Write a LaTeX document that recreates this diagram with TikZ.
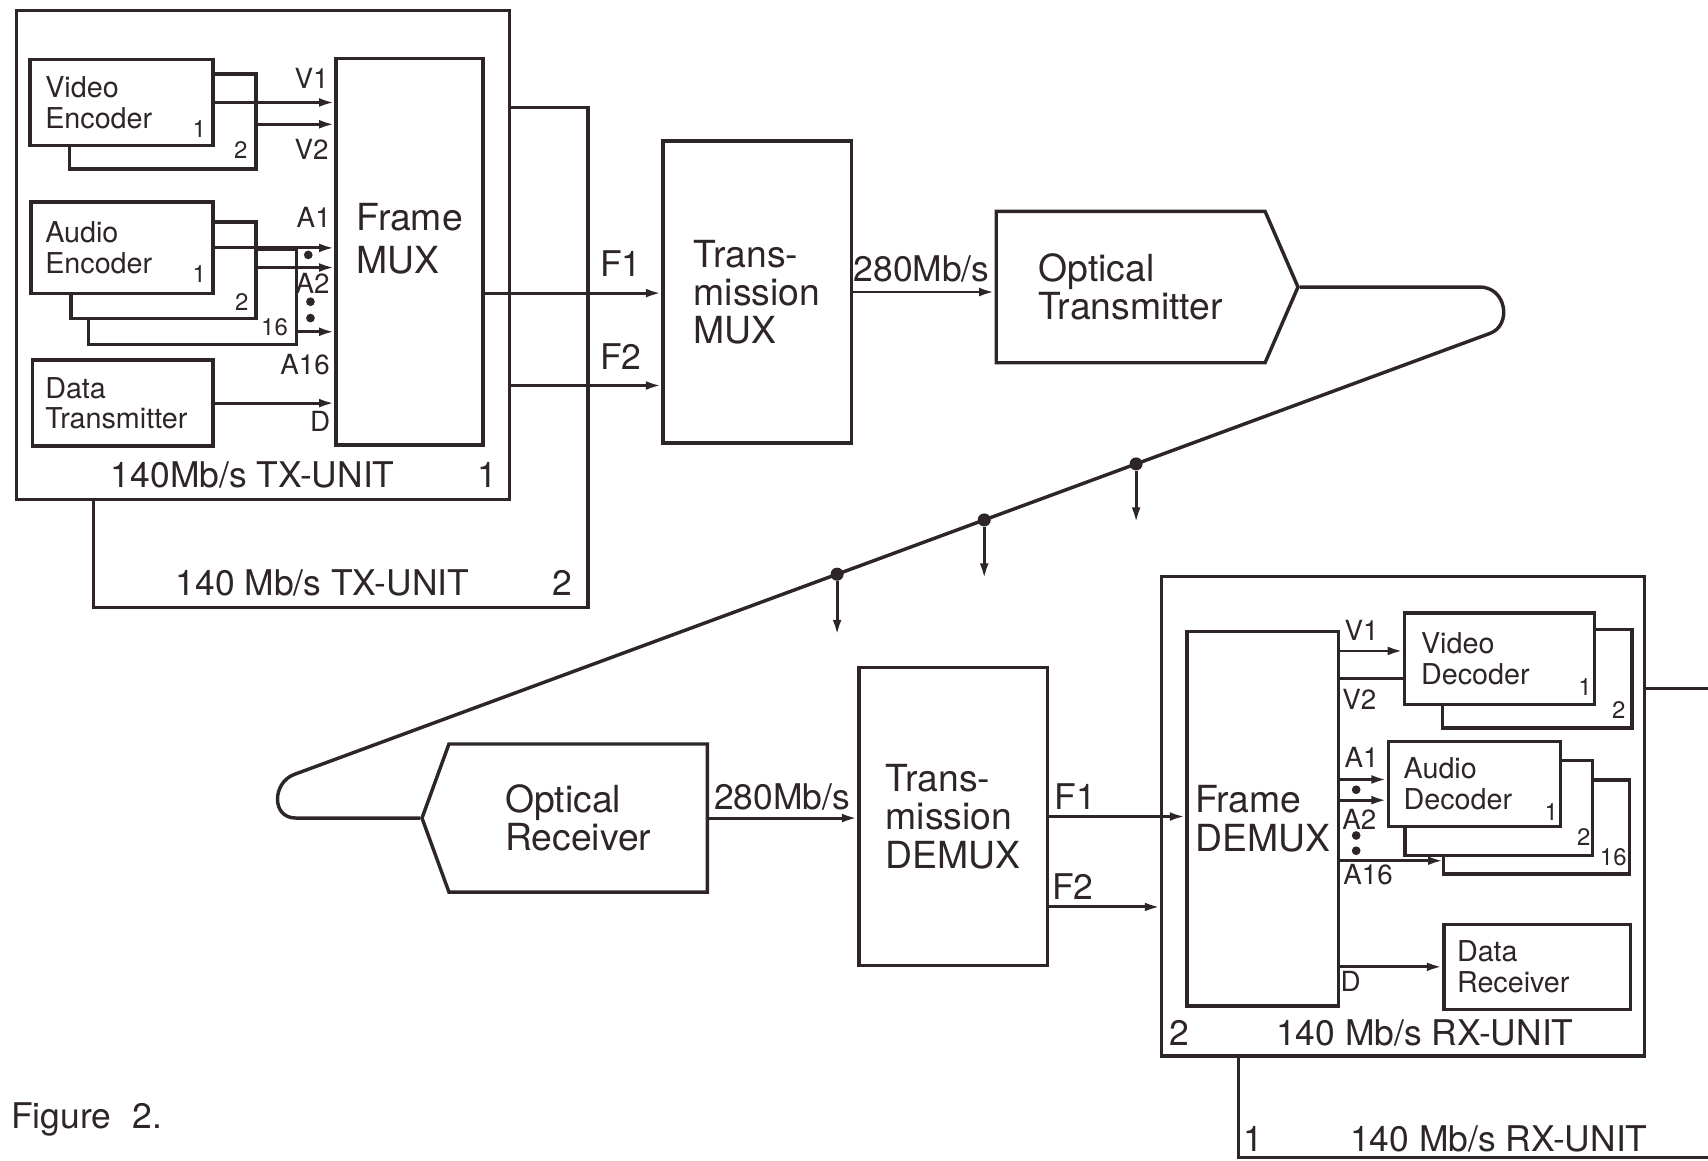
\documentclass[tikz,border=0pt]{standalone}
\usepackage{fontspec}
\setmainfont{TeX Gyre Heros}
\usetikzlibrary{shapes.symbols,arrows.meta,positioning,calc}

\definecolor{ink}{RGB}{45,37,41}

\begin{document}
\begin{tikzpicture}[
    x=0.2mm, y=-0.2mm, color=ink,
    unitframe/.style={draw, line width=1.6pt, anchor=north west, inner sep=0pt},
    unitline/.style={line width=1.6pt},
    block/.style={draw, line width=1.8pt, anchor=north west, align=left, font=\fontsize{15}{16}\selectfont},
    bigblock/.style={draw, line width=1.8pt, anchor=north west, align=left, font=\fontsize{19.5}{20}\selectfont},
    optic/.style={signal, draw, line width=1.8pt, align=left, font=\fontsize{19.5}{20}\selectfont},
    stack/.style={line width=1.8pt},
    sig/.style={line width=1.5pt, -{Latex[length=8pt,width=4.6pt]}},
    wire/.style={line width=1.5pt},
    fibre/.style={line width=1.8pt},
    tag/.style={font=\fontsize{14.5}{15}\selectfont, inner sep=0pt},
    num/.style={font=\fontsize{12.5}{13}\selectfont, inner sep=0pt},
    big/.style={font=\fontsize{18.5}{19}\selectfont, inner sep=0pt},
    bullet/.style={circle, fill, inner sep=0pt, minimum size=1.6mm},
    tapdot/.style={circle, fill, inner sep=0pt, minimum size=2.4mm},
]
\useasboundingbox (0,0) rectangle (1568,1065);

% ---------- transmitter side ----------
\node[unitframe, minimum width=90.4mm, minimum height=89.8mm] (txu1) at (14,8) {};
\draw[unitline] ($(txu1.north east)+(0,91)$) -| ($(txu1.south east)+(71,98)$) -| ($(txu1.south west)+(72,0)$);

\node[block, inner xsep=2.8mm, text width=28mm, minimum height=15.8mm] (venc) at (26,53) {Video\\Encoder};
\node[block, inner xsep=2.6mm, text width=28.2mm, minimum height=16.8mm] (aenc) at (27,184) {Audio\\Encoder};
\node[block, inner xsep=2.4mm, text width=28.4mm, minimum height=15.8mm] (dtx) at (28,329) {Data\\Transmitter};
\node[bigblock, font=\fontsize{19.5}{22.5}\selectfont, text depth=4.9mm, minimum width=27mm, minimum height=71mm] (fmux) at (307,52) {Frame\\MUX};

% stacked encoders behind
\draw[stack] ($(venc.north east)+(0,15)$) -| ($(venc.south east)+(38,20)$) -| ($(venc.south west)+(38,0)$);
\draw[stack] ($(aenc.north east)+(0,20)$) -| ($(aenc.south east)+(38,21)$) -| ($(aenc.south west)+(38,0)$);
\draw[stack] ($(aenc.north east)+(38,45)$) -| ($(aenc.south east)+(75,45)$) -| ($(aenc.south west)+(54,21)$);

\coordinate (venc2) at ($(venc.east)+(38,20)$);
\coordinate (aenc2) at ($(aenc.east)+(38,18)$);
\coordinate (aenc16) at ($(aenc.east)+(75,77)$);
\draw[sig] (venc.east) -- (venc.east -| fmux.west);
\draw[sig] (venc2) -- (venc2 -| fmux.west);
\draw[sig] (aenc.east) -- (aenc.east -| fmux.west);
\draw[sig] (aenc2) -- (aenc2 -| fmux.west);
\draw[sig] (aenc16) -- (aenc16 -| fmux.west);
\draw[sig] (dtx.east) -- (dtx.east -| fmux.west);

\node[bullet] (tdot1) at (283,234) {};
\node[bullet] (tdot2) at (285,277) {};
\node[bullet] (tdot3) at (285,292) {};

\node[tag] (tv1) at (286,72) {V1};
\node[tag] (tv2) at (286,137) {V2};
\node[tag] (ta1) at (288,200) {A1};
\node[tag] (ta2) at (287,260) {A2};
\node[tag] (ta16) at (280,335) {A16};
\node[tag] (td) at (294,387) {D};
\node[num] (vn1) at (183,118) {1};
\node[num] (vn2) at (221,138) {2};
\node[num] (an1) at (183,252) {1};
\node[num] (an2) at (222,277) {2};
\node[num] (an16) at (252,300) {16};

\node[big] (tx1lbl) at (232,436) {140Mb/s TX-UNIT};
\node[big] (tx1no) at (447,436) {1};
\node[big] (tx2lbl) at (296,535) {140 Mb/s TX-UNIT};
\node[big] (tx2no) at (516,535) {2};

\node[bigblock, minimum width=34.6mm, minimum height=55.4mm] (tmux) at (607,128) {Trans-\\mission\\MUX};
\coordinate (f1s) at ($(fmux.east)+(0,38)$);
\coordinate (f2s) at ($(txu1.east)+(0,120)$);
\draw[sig] (f1s) -- (f1s -| tmux.west);
\draw[sig] (f2s) -- (f2s -| tmux.west);
\node[big] (tf1) at (570,242) {F1};
\node[big] (tf2) at (570,327) {F2};

\node[optic, signal to=east, signal pointer angle=133, minimum width=55.4mm, minimum height=27.8mm, anchor=west] (otx) at (913,263.5) {Optical\\Transmitter};
\draw[sig] (tmux.east) -- (tmux.east -| otx.west);
\node[big] (trate) at (846,247) {280Mb/s};

% ---------- fibre with taps ----------
\node[optic, signal to=west, signal pointer angle=140, minimum width=52.4mm, minimum height=27.2mm, anchor=east] (orx) at (651,751) {Optical\\Receiver};
\coordinate (fibR) at (1368,306);
\coordinate (fibL) at (270,711);
\draw[fibre] (otx.east) -- ++(165,0) .. controls +(25,0) and +(20,-7.4) .. (fibR)
    -- (fibL) .. controls +(-20,7.4) and +(-23,0) .. ($(orx.west)+(-114,0)$) -- (orx.west);
\node[tapdot] (tap1) at ($(fibR)!0.296!(fibL)$) {};
\node[tapdot] (tap2) at ($(fibR)!0.423!(fibL)$) {};
\node[tapdot] (tap3) at ($(fibR)!0.546!(fibL)$) {};
\draw[sig] (tap1) -- ++(0,54);
\draw[sig] (tap2) -- ++(0,54);
\draw[sig] (tap3) -- ++(0,56);

% ---------- receiver side ----------
\node[bigblock, minimum width=34.6mm, minimum height=54.8mm] (tdmx) at (787,611) {Trans-\\mission\\DEMUX};
\draw[sig] (orx.east) -- (orx.east -| tdmx.west);
\node[big] (rrate) at (718,732) {280Mb/s};

\node[unitframe, minimum width=88.6mm, minimum height=88mm] (rxu2) at (1065,528) {};
\coordinate (rxout) at (1568,632);
\draw[unitline] ($(rxu2.north east)+(0,104)$) -- (rxout);
\draw[unitline] ($(rxu2.south west)+(72,0)$) |- (1568,1063);

\node[bigblock, minimum width=27.8mm, minimum height=68.8mm] (fdmx) at (1088,578) {Frame\\DEMUX};
\coordinate (f2r) at ($(tdmx.east)+(0,83)$);
\draw[sig] (tdmx.east) -- (tdmx.east -| fdmx.west);
\draw[sig] (f2r) -- (f2r -| rxu2.west);
\node[big] (rf1) at (987,731) {F1};
\node[big] (rf2) at (985,814) {F2};

\node[block, inner xsep=3mm, text width=28.8mm, minimum height=16.8mm] (vdec) at (1288,561) {Video\\Decoder};
\node[block, inner xsep=2.8mm, text width=26mm, minimum height=15.6mm] (adec) at (1273,679) {Audio\\Decoder};
\node[block, inner xsep=2.4mm, text width=29.4mm, minimum height=15.6mm] (drx) at (1324,847) {Data\\Receiver};

% stacked decoders behind
\draw[stack] ($(vdec.north east)+(0,17)$) -| ($(vdec.south east)+(33,20)$) -| ($(vdec.south west)+(36,0)$);
\draw[stack] ($(adec.north east)+(0,19)$) -| ($(adec.south east)+(28,25)$) -| ($(adec.south west)+(17,0)$);
\draw[stack] ($(adec.north east)+(28,37)$) -| ($(adec.south east)+(62,42)$) -| ($(adec.south west)+(52,25)$);

\coordinate (v1in) at ($(vdec.west)+(0,-7)$);
\coordinate (v2in) at ($(vdec.west)+(0,18)$);
\coordinate (a1in) at ($(adec.west)+(0,-4)$);
\coordinate (a2in) at ($(adec.west)+(0,15)$);
\coordinate (a16in) at ($(adec.south west)+(52,30)$);
\draw[sig] (fdmx.east |- v1in) -- (v1in);
\draw[wire] (fdmx.east |- v2in) -- (v2in);
\draw[sig] (fdmx.east |- a1in) -- (a1in);
\draw[sig] (fdmx.east |- a2in) -- (a2in);
\draw[sig] (fdmx.east |- a16in) -- (a16in);
\draw[sig] (fdmx.east |- drx.west) -- (drx.west);

\node[bullet] (rdot1) at (1245,725) {};
\node[bullet] (rdot2) at (1245,767) {};
\node[bullet] (rdot3) at (1245,781) {};

\node[tag] (rv1) at (1250,579) {V1};
\node[tag] (rv2) at (1248,642) {V2};
\node[tag] (ra1) at (1250,695) {A1};
\node[tag] (ra2) at (1248,752) {A2};
\node[tag] (ra16) at (1256,803) {A16};
\node[tag] (rd) at (1240,901) {D};
\node[num] (dn1) at (1455,631) {1};
\node[num] (dn2) at (1486,652) {2};
\node[num] (en1) at (1424,745) {1};
\node[num] (en2) at (1454,768) {2};
\node[num] (en16) at (1481,787) {16};

\node[big] (rx2no) at (1083,948) {2};
\node[big] (rx2lbl) at (1308,948) {140 Mb/s RX-UNIT};
\node[big] (rx1no) at (1151,1046) {1};
\node[big] (rx1lbl) at (1376,1046) {140 Mb/s RX-UNIT};

\node[big, anchor=west] (figlbl) at (10,1028) {Figure\hspace{0.6em}2.};

\end{tikzpicture}
\end{document}
